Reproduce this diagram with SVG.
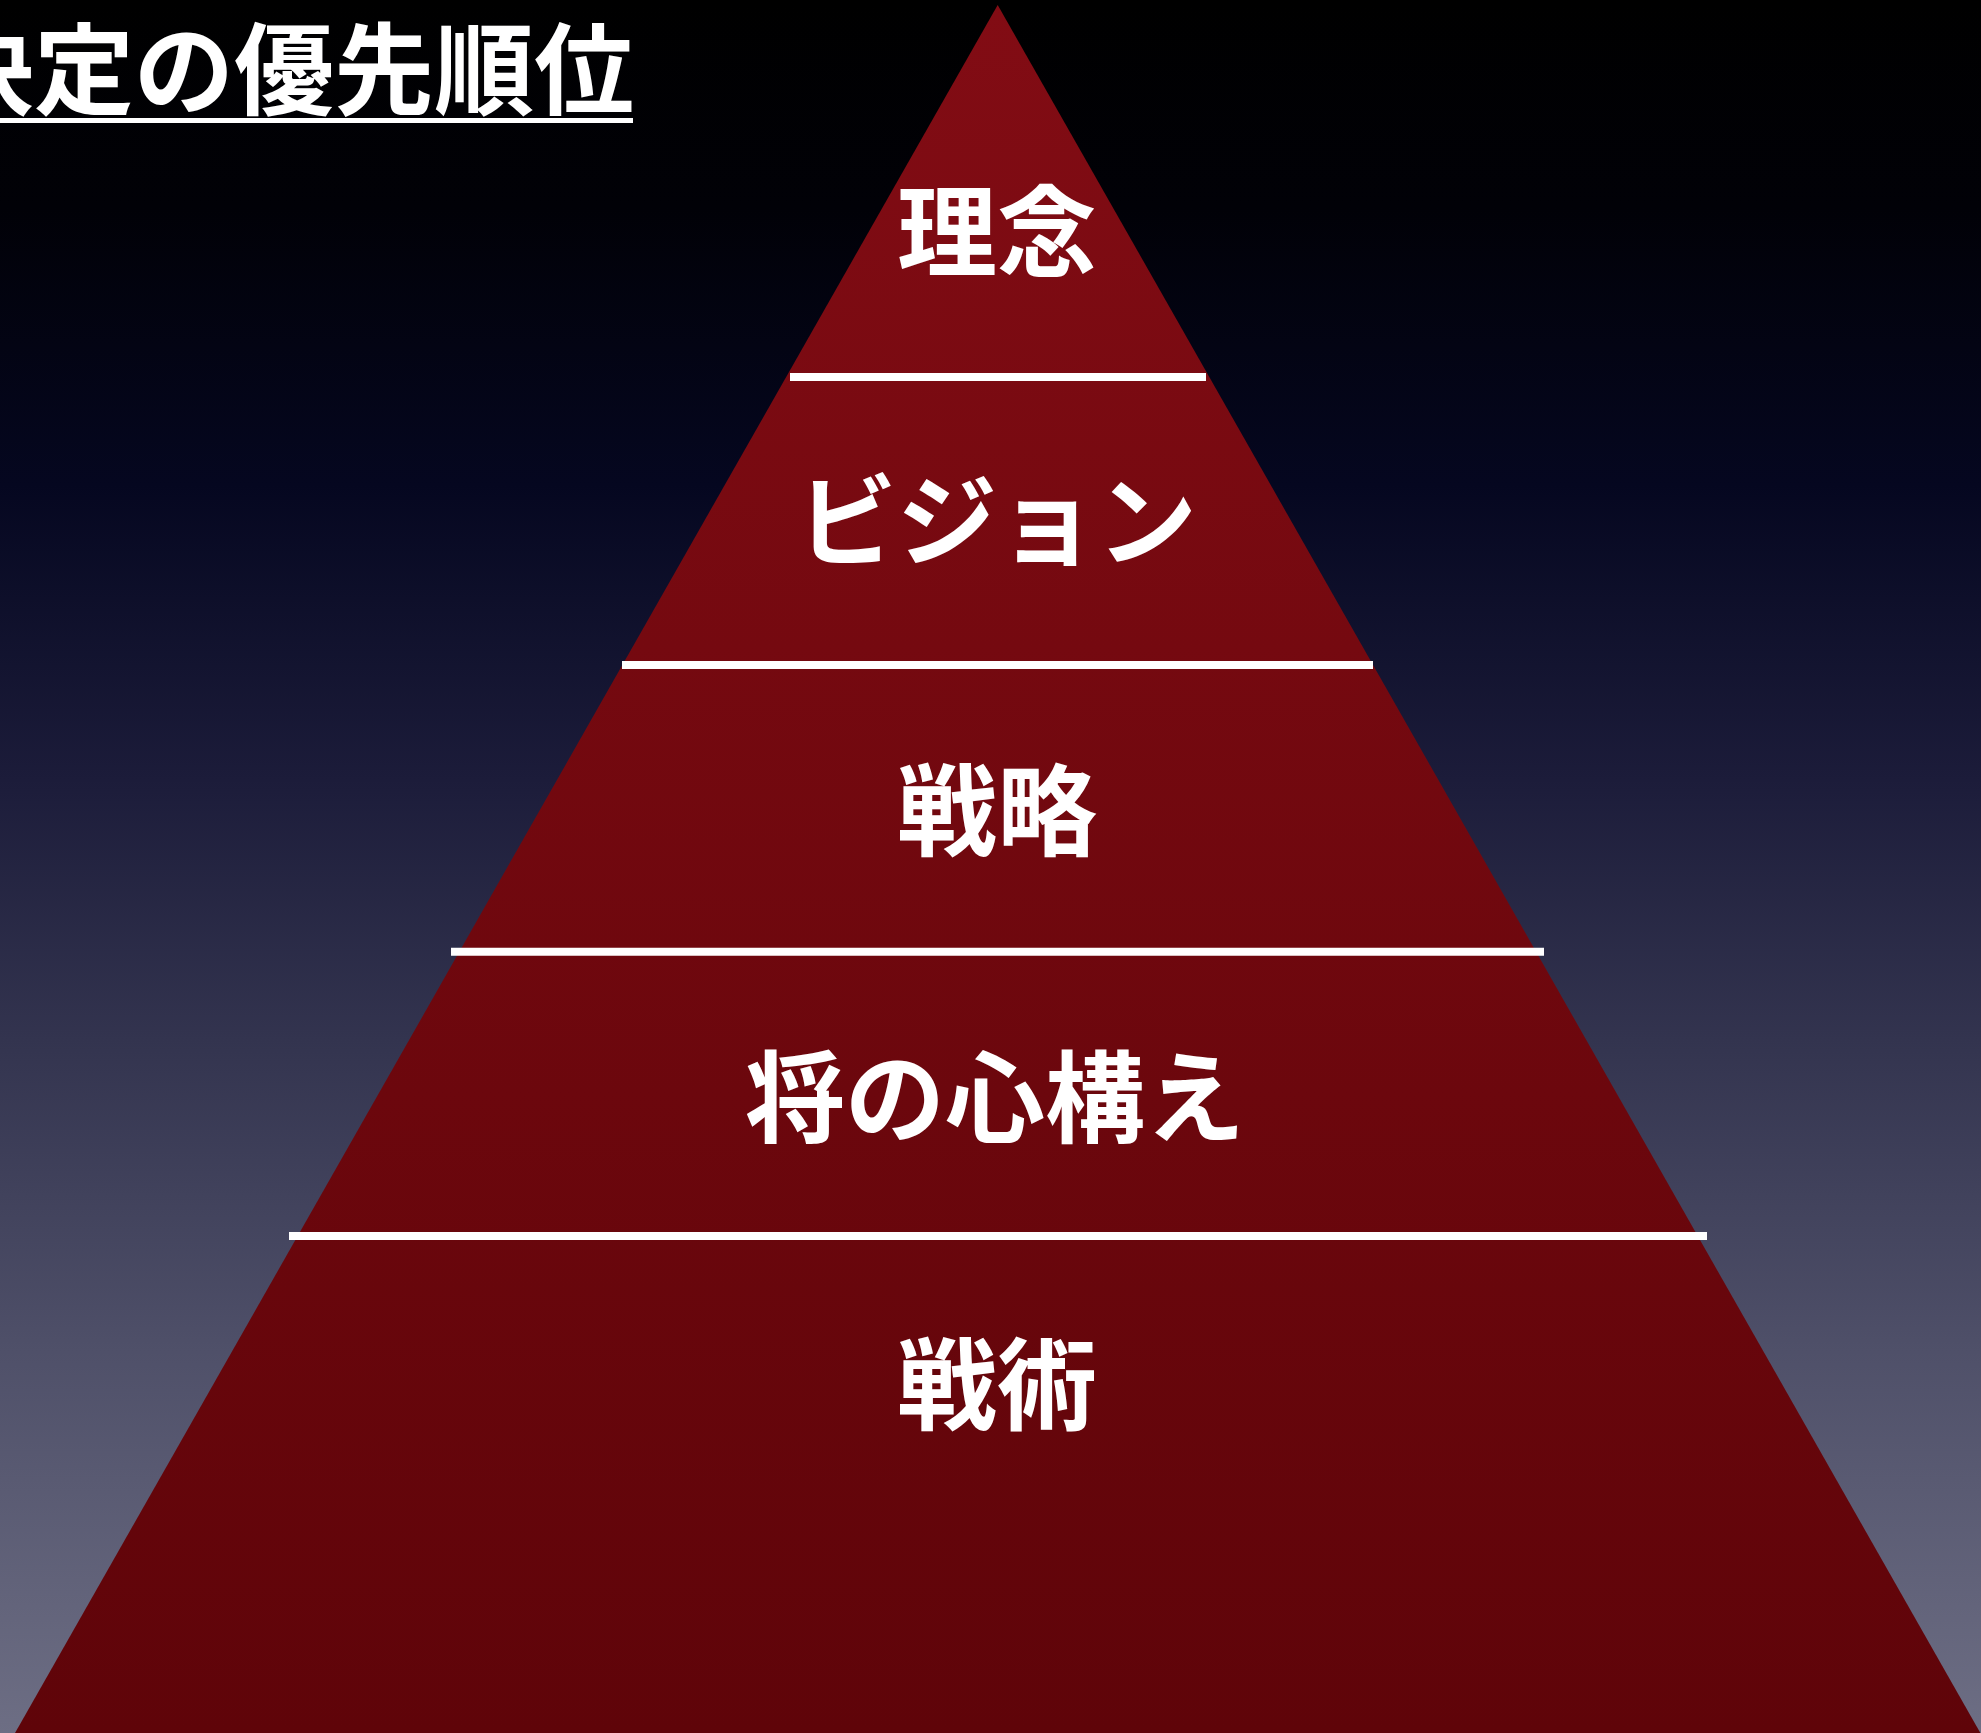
<svg xmlns="http://www.w3.org/2000/svg" width="1981" height="1733" viewBox="0 0 1981 1733">
<defs>
<linearGradient id="bg" x1="0" y1="0" x2="0" y2="1">
<stop offset="0" stop-color="#000000"/>
<stop offset="0.12" stop-color="#010107"/>
<stop offset="0.28" stop-color="#050720"/>
<stop offset="0.45" stop-color="#1c1c3a"/>
<stop offset="0.6" stop-color="#33344f"/>
<stop offset="0.78" stop-color="#4f5069"/>
<stop offset="1" stop-color="#6d6e84"/>
</linearGradient>
<linearGradient id="pyr" x1="0" y1="0" x2="0" y2="1">
<stop offset="0" stop-color="#820c14"/>
<stop offset="1" stop-color="#5f0409"/>
</linearGradient>
<style>
.lbl{font-family:"Noto Sans CJK JP","Noto Sans",sans-serif;font-weight:700;font-size:100px;fill:#ffffff;text-anchor:middle}
.ttl{font-family:"Noto Sans CJK JP","Noto Sans",sans-serif;font-weight:700;font-size:100px;fill:#ffffff;text-anchor:end}
.sep{stroke:#ffffff;stroke-width:8}
</style>
</defs>
<rect x="0" y="0" width="1981" height="1733" fill="url(#bg)"/>
<g id="title">
<text class="ttl" x="634" y="107">決定の優先順位</text>
<rect x="0" y="118" width="633" height="5" fill="#ffffff"/>
</g>
<g id="pyramid">
<polygon points="997.7,5 15,1733 1980.4,1733" fill="url(#pyr)"/>
</g>
<g id="connectors">
<line class="sep" x1="790" y1="377" x2="1206" y2="377"/>
<line class="sep" x1="622" y1="665" x2="1373" y2="665"/>
<line class="sep" x1="451" y1="951.7" x2="1544" y2="951.7"/>
<line class="sep" x1="289" y1="1236" x2="1707" y2="1236"/>
</g>
<g id="node-rinen"><text class="lbl" x="997" y="269">理念</text></g>
<g id="node-vision"><text class="lbl" x="997" y="558">ビジョン</text></g>
<g id="node-senryaku"><text class="lbl" x="997" y="848">戦略</text></g>
<g id="node-kokorogamae"><text class="lbl" x="995" y="1135">将の心構え</text></g>
<g id="node-senjutsu"><text class="lbl" x="997" y="1422">戦術</text></g>
</svg>
